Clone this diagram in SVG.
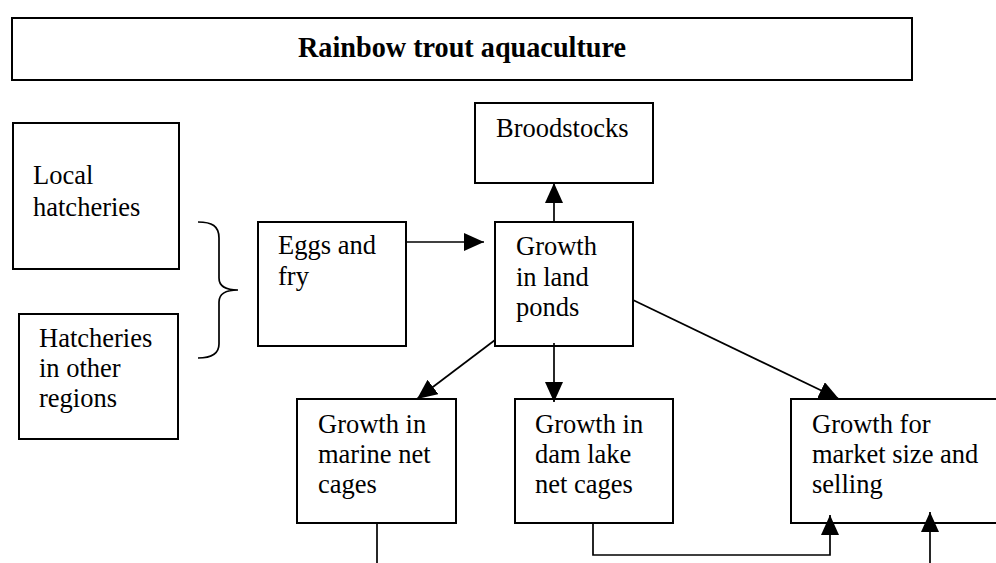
<svg xmlns="http://www.w3.org/2000/svg" width="996" height="563" viewBox="0 0 996 563">
<style>
  .box { fill: #fff; stroke: #000; stroke-width: 2; }
  .lbl { font-family: 'Liberation Serif', 'Times New Roman', serif; font-size: 26.5px; fill: #000; }
  .title { font-family: 'Liberation Serif', 'Times New Roman', serif; font-size: 30px; font-weight: bold; fill: #000; }
  .conn { fill: none; stroke: #000; stroke-width: 1.7; }
  .arr { marker-end: url(#ah); }
</style>
<defs>
  <marker id="ah" viewBox="0 0 20 18" refX="20" refY="9" markerWidth="20" markerHeight="18" markerUnits="userSpaceOnUse" orient="auto">
    <path d="M0,0 L20,9 L0,18 Z" fill="#000"/>
  </marker>
</defs>
<rect width="996" height="563" fill="#fff"/>

<g id="title">
  <rect class="box" x="12" y="18" width="900" height="62"/>
  <text class="title" x="298" y="57" textLength="328" lengthAdjust="spacingAndGlyphs">Rainbow trout aquaculture</text>
</g>

<g id="local-hatcheries">
  <rect class="box" x="13" y="123" width="166" height="146"/>
  <text class="lbl" x="33" y="184">Local</text>
  <text class="lbl" x="33" y="216">hatcheries</text>
</g>

<g id="other-hatcheries">
  <rect class="box" x="19" y="314" width="159" height="125"/>
  <text class="lbl" x="39" y="347">Hatcheries</text>
  <text class="lbl" x="39" y="377">in other</text>
  <text class="lbl" x="39" y="407">regions</text>
</g>

<g id="brace">
  <path class="conn" d="M198,222 C212,222 219,226 219,238 L219,278 C219,286 226,290 238,290 C226,290 219,294 219,302 L219,344 C219,354 212,358 198,358"/>
</g>

<g id="eggs-fry">
  <rect class="box" x="258" y="222" width="148" height="124"/>
  <text class="lbl" x="278" y="254">Eggs and</text>
  <text class="lbl" x="278" y="285">fry</text>
</g>

<g id="broodstocks">
  <rect class="box" x="475" y="103" width="178" height="80"/>
  <text class="lbl" x="496" y="137">Broodstocks</text>
</g>

<g id="land-ponds">
  <rect class="box" x="495" y="222" width="138" height="124"/>
  <text class="lbl" x="516" y="255">Growth</text>
  <text class="lbl" x="516" y="286">in land</text>
  <text class="lbl" x="516" y="316">ponds</text>
</g>

<g id="marine-cages">
  <rect class="box" x="297" y="399" width="159" height="124"/>
  <text class="lbl" x="318" y="433">Growth in</text>
  <text class="lbl" x="318" y="463">marine net</text>
  <text class="lbl" x="318" y="493">cages</text>
</g>

<g id="dam-lake-cages">
  <rect class="box" x="515" y="399" width="158" height="124"/>
  <text class="lbl" x="535" y="433">Growth in</text>
  <text class="lbl" x="535" y="463">dam lake</text>
  <text class="lbl" x="535" y="493">net cages</text>
</g>

<g id="market">
  <rect class="box" x="791" y="399" width="215" height="124"/>
  <text class="lbl" x="812" y="433">Growth for</text>
  <text class="lbl" x="812" y="463">market size and</text>
  <text class="lbl" x="812" y="493">selling</text>
</g>

<g id="connectors">
  <path class="conn arr" d="M406,242 L484,242"/>
  <path class="conn arr" d="M554,222 L554,183"/>
  <path class="conn arr" d="M554,343 L554,402"/>
  <path class="conn arr" d="M495,340 L417,399"/>
  <path class="conn arr" d="M633,300 L839,399"/>
  <path class="conn arr" d="M593,523 L593,555 L830,555 L830,515"/>
  <path class="conn arr" d="M930,563 L930,512"/>
  <path class="conn" d="M377,523 L377,563"/>
</g>
</svg>
